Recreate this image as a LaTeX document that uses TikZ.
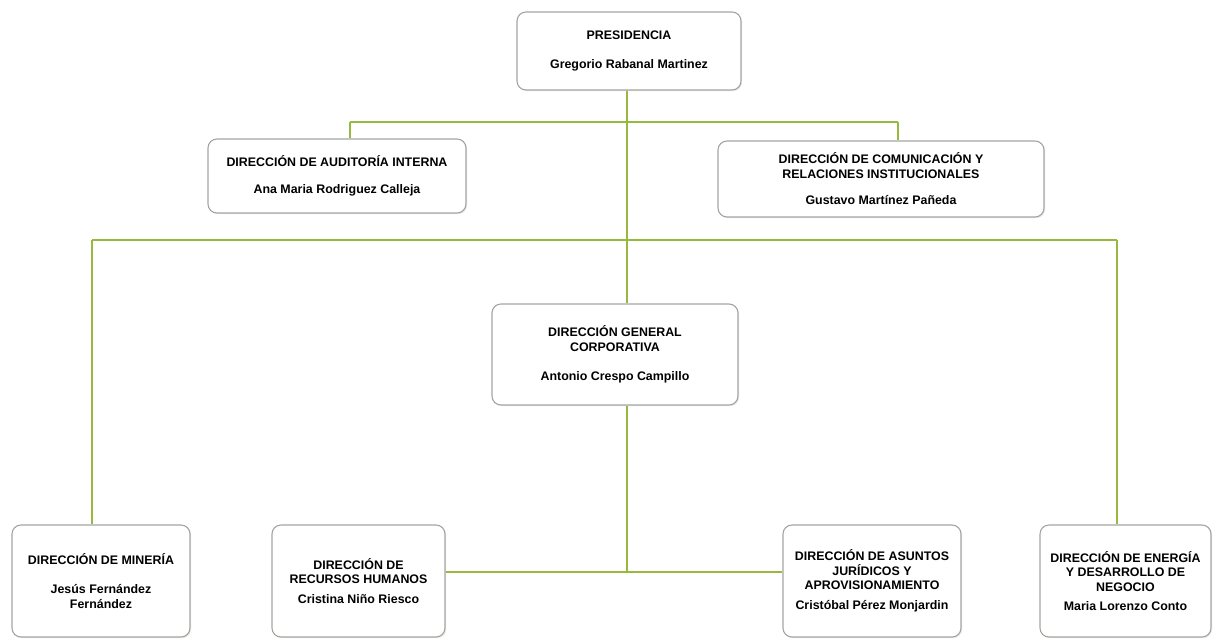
\documentclass[tikz,border=0pt]{standalone}
\usepackage{fontspec}
\setmainfont{Liberation Sans}
\usepackage{tikz}
\usetikzlibrary{positioning, calc, shadows}
\definecolor{linegreen}{RGB}{150, 185, 62}
\definecolor{boxgray}{RGB}{165, 165, 160}

\tikzset{
  orgbox/.style={draw=boxgray, fill=white, line width=1.1pt, rounded corners=9pt,
    align=center, inner sep=2pt, font=\fontsize{12.4}{14.5}\selectfont\bfseries,
    drop shadow={opacity=0.18, shadow xshift=1.2pt, shadow yshift=-1.2pt}},
  orgline/.style={draw=linegreen, line width=1.7pt}
}

\begin{document}
\begin{tikzpicture}[x=1pt, y=-1pt]
  \useasboundingbox (0,0) rectangle (1213,640);

  % level 0
  \node[orgbox, minimum width=224pt, minimum height=78pt] (pres) at (629,51)
    {PRESIDENCIA\\[15pt] Gregorio Rabanal Martinez};

  % level 1
  \node[orgbox, minimum width=258pt, minimum height=74pt] (audit) at (337,176)
    {DIRECCIÓN DE AUDITORÍA INTERNA\\[12pt] Ana Maria Rodriguez Calleja};
  \node[orgbox, minimum width=326pt, minimum height=76pt] (comm) at (881,179)
    {DIRECCIÓN DE COMUNICACIÓN Y\\ RELACIONES INSTITUCIONALES\\[12pt] Gustavo Martínez Pañeda};

  % level 2
  \node[orgbox, minimum width=246pt, minimum height=101pt] (dg) at (615,354.5)
    {DIRECCIÓN GENERAL\\ CORPORATIVA\\[15pt] Antonio Crespo Campillo};

  % level 3
  \node[orgbox, minimum width=178pt, minimum height=112pt] (mineria) at (101,581)
    {DIRECCIÓN DE MINERÍA\\[15pt] Jesús Fernández\\ Fernández};
  \node[orgbox, minimum width=173pt, minimum height=112pt] (rrhh) at (358.5,581)
    {DIRECCIÓN DE\\ RECURSOS HUMANOS\\[5pt] Cristina Niño Riesco};
  \node[orgbox, minimum width=178pt, minimum height=112pt] (asuntos) at (872,581)
    {DIRECCIÓN DE ASUNTOS\\ JURÍDICOS Y\\ APROVISIONAMIENTO\\[5pt] Cristóbal Pérez Monjardin};
  \node[orgbox, minimum width=171pt, minimum height=112pt] (energia) at (1125.5,581)
    {DIRECCIÓN DE ENERGÍA\\ Y DESARROLLO DE\\ NEGOCIO\\[5pt] Maria Lorenzo Conto};

  % junctions of the green lines
  \coordinate (barA) at (627,122);
  \coordinate (barAw) at (350,122);
  \coordinate (barAe) at (898,122);
  \coordinate (barBw) at (92,240);
  \coordinate (barBe) at (1117,240);
  \coordinate (barC) at (627,572);

  % connectors
  \draw[orgline] (barA |- pres.south) -- (barA |- dg.north);
  \draw[orgline] (barAw) -- (barAe);
  \draw[orgline] (barAw) -- (barAw |- audit.north);
  \draw[orgline] (barAe) -- (barAe |- comm.north);
  \draw[orgline] (barBw) -- (barBe);
  \draw[orgline] (barBw) -- (barBw |- mineria.north);
  \draw[orgline] (barBe) -- (barBe |- energia.north);
  \draw[orgline] (barC |- dg.south) -- (barC);
  \draw[orgline] (barC -| rrhh.east) -- (barC -| asuntos.west);
\end{tikzpicture}
\end{document}
